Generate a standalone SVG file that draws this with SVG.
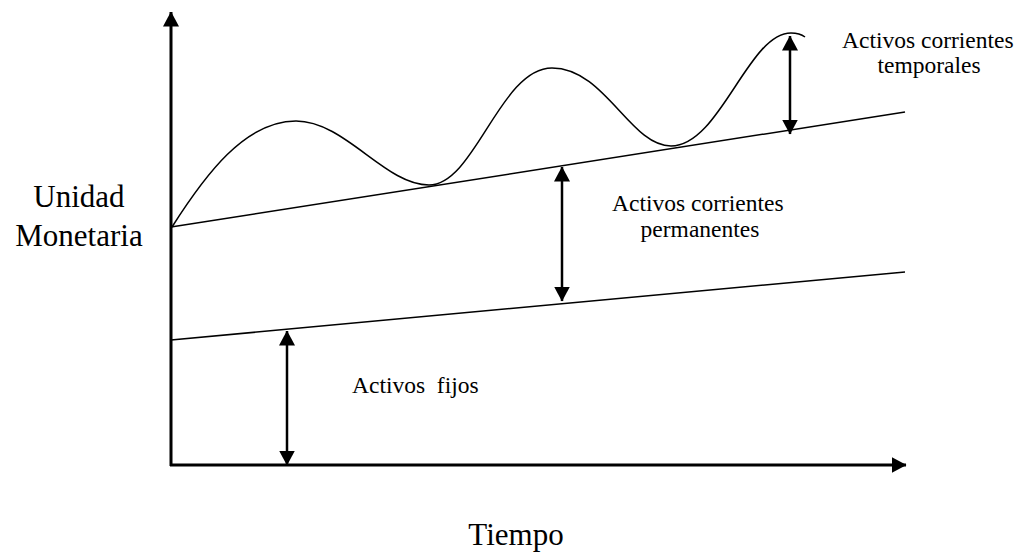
<svg xmlns="http://www.w3.org/2000/svg" width="1022" height="554" viewBox="0 0 1022 554">
<style>
.bg{fill:#ffffff}
.axis{stroke:#000;stroke-width:3;fill:none}
.thin{stroke:#000;stroke-width:1.5;fill:none}
.dim{stroke:#000;stroke-width:2.5;fill:none}
.lbl{font-family:"Liberation Serif","Times New Roman",serif;fill:#000;font-size:23.5px}
.big{font-family:"Liberation Serif","Times New Roman",serif;fill:#000;font-size:31px}
</style>
<defs>
<marker id="ah" viewBox="0 0 15 16" refX="14.5" refY="8" markerWidth="15" markerHeight="16" markerUnits="userSpaceOnUse" orient="auto-start-reverse">
<path d="M0,0 L15,8 L0,16 Z" fill="#000"/>
</marker>
</defs>
<rect class="bg" x="0" y="0" width="1022" height="554"/>
<g id="connectors">
<line id="y-axis" class="axis" x1="171" y1="466" x2="171" y2="12" marker-end="url(#ah)"/>
<line id="x-axis" class="axis" x1="170" y1="465" x2="906" y2="465" marker-end="url(#ah)"/>
<line id="line-fixed" class="thin" x1="171" y1="340" x2="905" y2="272"/>
<line id="line-permanent" class="thin" x1="171" y1="227" x2="905" y2="112"/>
<path id="curve-temporal" class="thin" d="M172,227 C205,175 245,121 296,121 C345,121 385,185 429,185 C475,185 500,68 552,68 C605,68 630,146 671,146 C720,146 748,33 791,33 C797,33 801,34 805,37"/>
<line id="arrow-fixed" class="dim" x1="287" y1="331" x2="287" y2="465" marker-start="url(#ah)" marker-end="url(#ah)"/>
<line id="arrow-permanent" class="dim" x1="562" y1="167" x2="562" y2="301" marker-start="url(#ah)" marker-end="url(#ah)"/>
<line id="arrow-temporal" class="dim" x1="790" y1="36" x2="790" y2="134" marker-start="url(#ah)" marker-end="url(#ah)"/>
</g>
<g id="label-temporal">
<text class="lbl" x="842" y="48">Activos corrientes</text>
<text class="lbl" x="929" y="73" text-anchor="middle">temporales</text>
</g>
<g id="label-permanent">
<text class="lbl" x="612" y="211">Activos corrientes</text>
<text class="lbl" x="700" y="237" text-anchor="middle">permanentes</text>
</g>
<g id="label-fixed">
<text class="lbl" x="352" y="393" xml:space="preserve">Activos  fijos</text>
</g>
<g id="label-y">
<text class="big" x="79" y="207" text-anchor="middle">Unidad</text>
<text class="big" x="79" y="246" text-anchor="middle">Monetaria</text>
</g>
<g id="label-x">
<text class="big" x="516" y="545" text-anchor="middle">Tiempo</text>
</g>
</svg>
